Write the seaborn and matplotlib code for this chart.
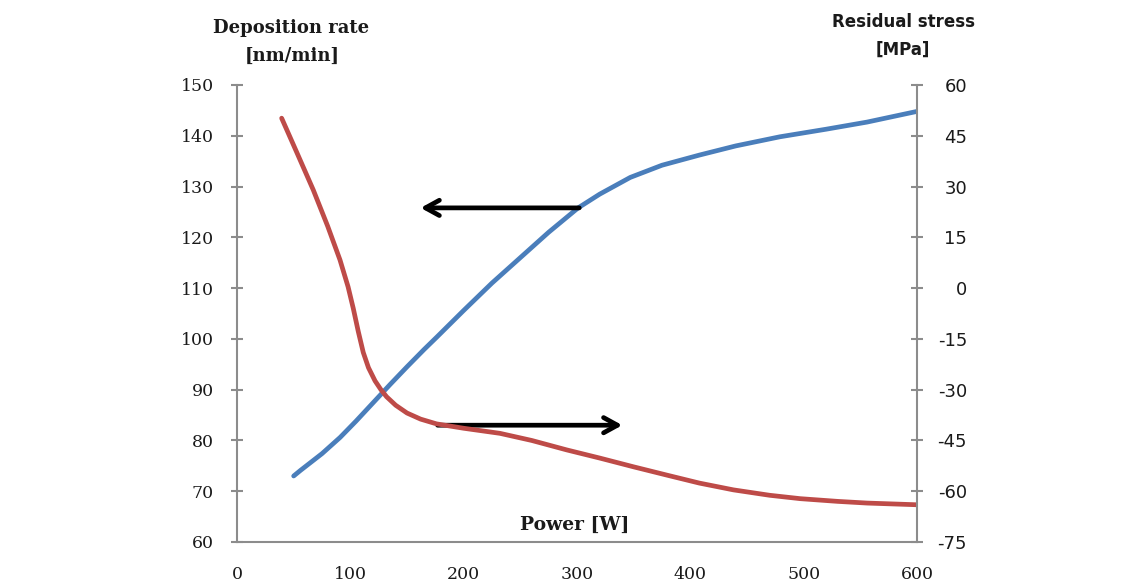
import matplotlib
matplotlib.use("Agg")
import matplotlib.pyplot as plt
import seaborn as sns
import pandas as pd

# ---- data ----
power_rate = [50, 56, 75, 91, 105, 120, 135, 150, 165, 176.5, 200, 225, 250, 275, 301, 320, 347, 375, 408, 440, 479, 520, 556, 600]
dep_rate = [73, 74.1, 77.4, 80.6, 83.8, 87.4, 91.0, 94.5, 97.9, 100.4, 105.6, 111, 116, 121, 125.8, 128.5, 131.8, 134.2, 136.2, 138, 139.8, 141.3, 142.7, 144.8]

power_stress = [39.4, 53, 67.3, 80, 90.9, 98, 102.6, 107, 111.4, 116, 121.8, 127, 132, 140, 150, 162, 176, 200, 232, 260, 291, 320, 350, 380, 408, 438, 470, 497, 530, 556, 600]
stress = [50.2, 39.9, 29.0, 18.3, 8.3, 0.4, -6.0, -12.8, -19.0, -23.5, -27.4, -30.0, -32.1, -34.6, -36.9, -38.7, -40.1, -41.4, -42.9, -45, -47.8, -50.2, -52.8, -55.3, -57.6, -59.6, -61.2, -62.2, -63, -63.5, -64]

x_ticks = [0, 100, 200, 300, 400, 500, 600]
left_ticks = [60, 70, 80, 90, 100, 110, 120, 130, 140, 150]
right_ticks = [-75, -60, -45, -30, -15, 0, 15, 30, 45, 60]

left_title = ["Deposition rate", "[nm/min]"]
right_title = ["Residual stress", "[MPa]"]
x_title = "Power [W]"

df_rate = pd.DataFrame({"power": power_rate, "rate": dep_rate})
df_stress = pd.DataFrame({"power": power_stress, "stress": stress})

sns.set_style("white")
serif = ["DejaVu Serif"]
sans = ["DejaVu Sans"]

BLUE = "#4a7ebb"
RED = "#be4b48"
GRAY = "#8c8c8c"
TXT = "#1a1a1a"

W, H = 1143, 586
fig = plt.figure(figsize=(W / 100, H / 100), dpi=100)
ax = fig.add_axes([237 / W, 1 - 542 / H, (917 - 237) / W, (542 - 85) / H])
ax2 = ax.twinx()

sns.lineplot(data=df_rate, x="power", y="rate", ax=ax, color=BLUE, linewidth=3.4,
             sort=False, estimator=None)
sns.lineplot(data=df_stress, x="power", y="stress", ax=ax2, color=RED, linewidth=3.4,
             sort=False, estimator=None)
for line in ax.lines + ax2.lines:
    line.set_solid_capstyle("round")
    line.set_solid_joinstyle("round")

ax.set_xlim(0, 600)
ax.set_ylim(60, 150)
ax2.set_ylim(-75, 60)
ax.set_xticks(x_ticks)
ax.set_xticklabels([str(t) for t in x_ticks])
ax.set_yticks(left_ticks)
ax.set_yticklabels([str(t) for t in left_ticks])
ax2.set_yticks(right_ticks)
ax2.set_yticklabels([str(t) for t in right_ticks])
ax.set_xlabel("")
ax.set_ylabel("")
ax2.set_ylabel("")

for a in (ax, ax2):
    for s in a.spines.values():
        s.set_visible(False)
ax.spines["left"].set_visible(True)
ax.spines["bottom"].set_visible(True)
ax2.spines["right"].set_visible(True)
for s in (ax.spines["left"], ax.spines["bottom"], ax2.spines["right"]):
    s.set_color(GRAY)
    s.set_linewidth(1.5)

ax.tick_params(axis="y", direction="inout", length=9, width=1.5, color=GRAY,
               labelsize=12.5, pad=12)
ax.tick_params(axis="x", direction="inout", length=9, width=1.5, color=GRAY,
               labelsize=12.5, pad=12.5)
ax2.tick_params(axis="y", direction="inout", length=9, width=1.5, color=GRAY,
                labelsize=13, pad=31.5)
for lab in ax.get_xticklabels() + ax.get_yticklabels():
    lab.set_family(serif)
    lab.set_color(TXT)
for lab in ax2.get_yticklabels():
    lab.set_family(sans)
    lab.set_horizontalalignment("right")
    lab.set_color(TXT)

# axis titles
fig.text(291 / W, 1 - 33 / H, left_title[0], ha="center", va="baseline",
         fontsize=13, fontweight="bold", family=serif, color=TXT)
fig.text(292 / W, 1 - 61 / H, left_title[1], ha="center", va="baseline",
         fontsize=13, fontweight="bold", family=serif, color=TXT)
fig.text(903 / W, 1 - 27 / H, right_title[0], ha="center", va="baseline",
         fontsize=12, fontweight="bold", family=sans, color=TXT)
fig.text(903 / W, 1 - 55 / H, right_title[1], ha="center", va="baseline",
         fontsize=12, fontweight="bold", family=sans, color=TXT)
ax.text(298, 62.4, x_title, ha="center", va="baseline", fontsize=13.5,
        fontweight="bold", family=serif, color=TXT)

# arrows
astyle = "->,head_length=1.0,head_width=0.55"
ax.annotate("", xy=(162, 125.8), xytext=(302, 125.8),
            arrowprops=dict(arrowstyle=astyle, color="black", lw=3.4,
                            shrinkA=0, shrinkB=0))
ax.annotate("", xy=(340, 83.0), xytext=(177, 83.0),
            arrowprops=dict(arrowstyle=astyle, color="black", lw=3.4,
                            shrinkA=0, shrinkB=0))

fig.savefig("out.png", dpi=100)
